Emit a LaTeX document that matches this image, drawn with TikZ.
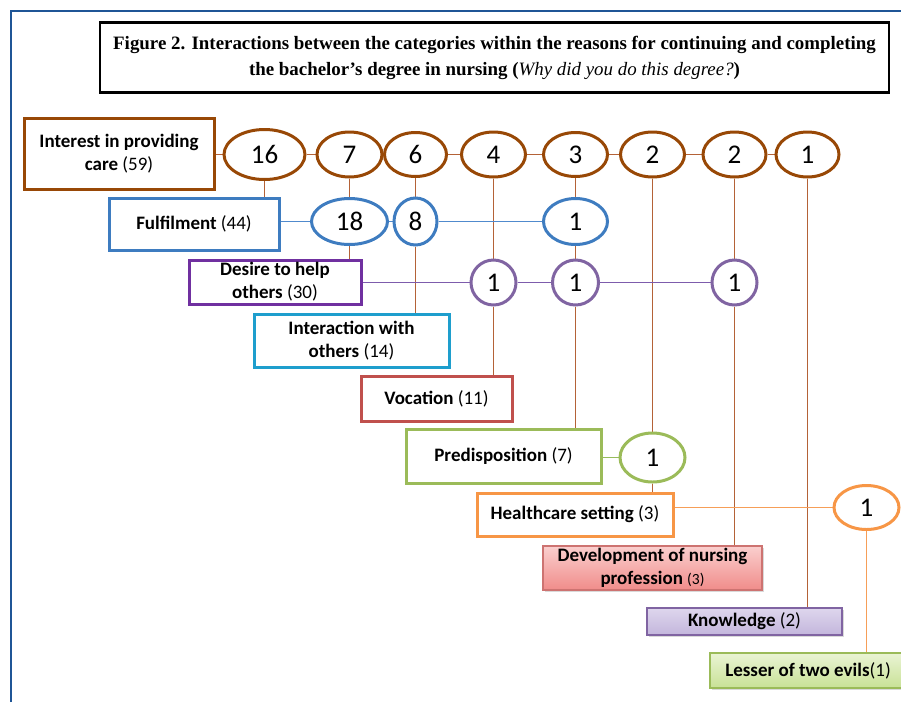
\documentclass[tikz,border=0pt]{standalone}
\usepackage{fontspec}
\setmainfont{Carlito}
\newfontfamily\titlefont{Liberation Serif}
\usetikzlibrary{shapes.geometric,backgrounds,shadows}
\definecolor{frameblue}{RGB}{31,85,150}
\definecolor{carebrown}{RGB}{152,72,6}
\definecolor{carelink}{RGB}{180,98,55}
\definecolor{fulblue}{RGB}{62,124,192}
\definecolor{fullink}{RGB}{80,138,205}
\definecolor{despurple}{RGB}{112,48,160}
\definecolor{descount}{RGB}{128,100,162}
\definecolor{deslink}{RGB}{125,92,172}
\definecolor{intcyan}{RGB}{30,158,205}
\definecolor{vocred}{RGB}{192,80,77}
\definecolor{pregreen}{RGB}{155,187,89}
\definecolor{prelink}{RGB}{150,188,92}
\definecolor{hcorange}{RGB}{247,150,70}
\definecolor{hclink}{RGB}{246,158,88}
\definecolor{devtop}{RGB}{250,207,206}
\definecolor{devbot}{RGB}{240,140,138}
\definecolor{knotop}{RGB}{222,214,237}
\definecolor{knobot}{RGB}{195,182,220}
\definecolor{lestop}{RGB}{234,244,212}
\definecolor{lesbot}{RGB}{200,225,150}
\begin{document}
\begin{tikzpicture}[x=1pt,y=-1pt,
    catbox/.style={draw,line width=3pt,fill=white,align=center,inner sep=0pt,
        font=\fontsize{19}{23}\selectfont\bfseries},
    shadebox/.style={draw,line width=1.2pt,align=center,inner sep=0pt,
        font=\fontsize{19}{23}\selectfont\bfseries,
        drop shadow={opacity=0.3,shadow xshift=1.5pt,shadow yshift=-1.5pt}},
    countnode/.style={ellipse,draw,line width=3pt,fill=white,inner sep=0pt,
        font=\fontsize{27}{27}\selectfont},
    link/.style={line width=1.5pt}]
    \useasboundingbox (0,0) rectangle (901,702);
    \draw[frameblue,line width=2.8pt] (11,702) -- (11,11) -- (901,11);
    \node[draw,line width=2.6pt,minimum width=789pt,minimum height=70pt,align=center,
        font=\titlefont\bfseries\fontsize{18.9}{26}\selectfont] (title) at (494.5,57.5)
        {Figure 2. Interactions between the categories within the reasons for continuing and completing\\
         the bachelor’s degree in nursing (\textit{\mdseries Why did you do this degree?})};
    \node[catbox,draw=carebrown,minimum width=190pt,minimum height=71pt] (care) at (119,153.5)
        {Interest in providing\\care \textmd{(59)}};
    \node[countnode,draw=carebrown,minimum width=81pt,minimum height=50pt] (c16) at (264.5,154.5) {16};
    \node[countnode,draw=carebrown,minimum width=65pt,minimum height=45pt] (c7) at (349.5,154.5) {7};
    \node[countnode,draw=carebrown,minimum width=62pt,minimum height=44pt] (c6) at (415.5,154.5) {6};
    \node[countnode,draw=carebrown,minimum width=64pt,minimum height=45pt] (c4) at (493.5,154.5) {4};
    \node[countnode,draw=carebrown,minimum width=64pt,minimum height=44pt] (c3) at (575.5,154.5) {3};
    \node[countnode,draw=carebrown,minimum width=64pt,minimum height=45pt] (c2a) at (652.5,154.5) {2};
    \node[countnode,draw=carebrown,minimum width=63pt,minimum height=45pt] (c2b) at (734.5,154.5) {2};
    \node[countnode,draw=carebrown,minimum width=63pt,minimum height=45pt] (c1) at (807.5,154.5) {1};
    \node[catbox,draw=fulblue,minimum width=170pt,minimum height=52pt] (ful) at (194,224)
        {Fulfilment \textmd{(44)}};
    \node[countnode,draw=fulblue,minimum width=76pt,minimum height=46pt] (b18) at (349.5,221.5) {18};
    \node[countnode,draw=fulblue,minimum width=43pt,minimum height=47pt] (b8) at (415.5,221.5) {8};
    \node[countnode,draw=fulblue,minimum width=64pt,minimum height=46pt] (b1) at (575.5,221.5) {1};
    \node[catbox,draw=despurple,minimum width=172pt,minimum height=44pt] (des) at (275,282)
        {Desire to help\\others \textmd{(30)}};
    \node[countnode,draw=descount,minimum width=45pt,minimum height=45pt] (p1a) at (493.5,282.5) {1};
    \node[countnode,draw=descount,minimum width=46pt,minimum height=45pt] (p1b) at (575.5,282.5) {1};
    \node[countnode,draw=descount,minimum width=45pt,minimum height=45pt] (p1c) at (734.5,282.5) {1};
    \node[catbox,draw=intcyan,minimum width=195pt,minimum height=53pt] (int) at (351.5,340.5)
        {Interaction with\\others \textmd{(14)}};
    \node[catbox,draw=vocred,minimum width=151pt,minimum height=45pt] (voc) at (436.5,398.5)
        {Vocation \textmd{(11)}};
    \node[catbox,draw=pregreen,minimum width=195pt,minimum height=54pt] (pre) at (503.5,456)
        {Predisposition \textmd{(7)}};
    \node[countnode,draw=pregreen,minimum width=65pt,minimum height=49pt] (g1) at (652.5,457.5) {1};
    \node[catbox,draw=hcorange,minimum width=196pt,minimum height=43pt] (hc) at (575,514.5)
        {Healthcare setting \textmd{(3)}};
    \node[countnode,draw=hcorange,minimum width=65pt,minimum height=44pt] (o1) at (866.5,507.5) {1};
    \node[shadebox,draw=vocred!80,top color=devtop,bottom color=devbot,
        minimum width=219pt,minimum height=44pt] (dev) at (652.5,568)
        {Development of nursing\\profession {\mdseries\fontsize{15.5}{23}\selectfont(3)}};
    \node[shadebox,draw=descount,top color=knotop,bottom color=knobot,
        minimum width=195pt,minimum height=27pt] (kno) at (744.5,621.5)
        {Knowledge \textmd{(2)}};
    \node[shadebox,draw=pregreen,top color=lestop,bottom color=lesbot,
        minimum width=196pt,minimum height=35pt] (les) at (808,670.5)
        {Lesser of two evils\textmd{(1)}};
    \begin{scope}[on background layer,link]
        \draw[carelink] (c16) -- (c16 -| care);
        \draw[carelink] (c16) -- (c7) -- (c6) -- (c4) -- (c3) -- (c2a) -- (c2b) -- (c1);
        \draw[carelink] (c16) -- (c16 |- ful);
        \draw[carelink] (c7) -- (b18);
        \draw[carelink] (b18) -- (b18 |- des);
        \draw[carelink] (c6) -- (b8);
        \draw[carelink] (b8) -- (b8 |- int);
        \draw[carelink] (c4) -- (p1a);
        \draw[carelink] (p1a) -- (p1a |- voc);
        \draw[carelink] (c3) -- (b1);
        \draw[carelink] (b1) -- (p1b);
        \draw[carelink] (p1b) -- (p1b |- pre);
        \draw[carelink] (c2a) -- (g1);
        \draw[carelink] (g1) -- (g1 |- hc);
        \draw[carelink] (c2b) -- (p1c);
        \draw[carelink] (p1c) -- (p1c |- dev);
        \draw[carelink] (c1) -- (c1 |- kno);
        \draw[fullink] (b18) -- (b18 -| ful);
        \draw[fullink] (b18) -- (b8) -- (b1);
        \draw[deslink] (p1a) -- (p1a -| des);
        \draw[deslink] (p1a) -- (p1b) -- (p1c);
        \draw[prelink] (g1) -- (g1 -| pre);
        \draw[hclink] (o1) -- (o1 -| hc);
        \draw[hclink] (o1) -- (o1 |- les);
    \end{scope}
\end{tikzpicture}
\end{document}
